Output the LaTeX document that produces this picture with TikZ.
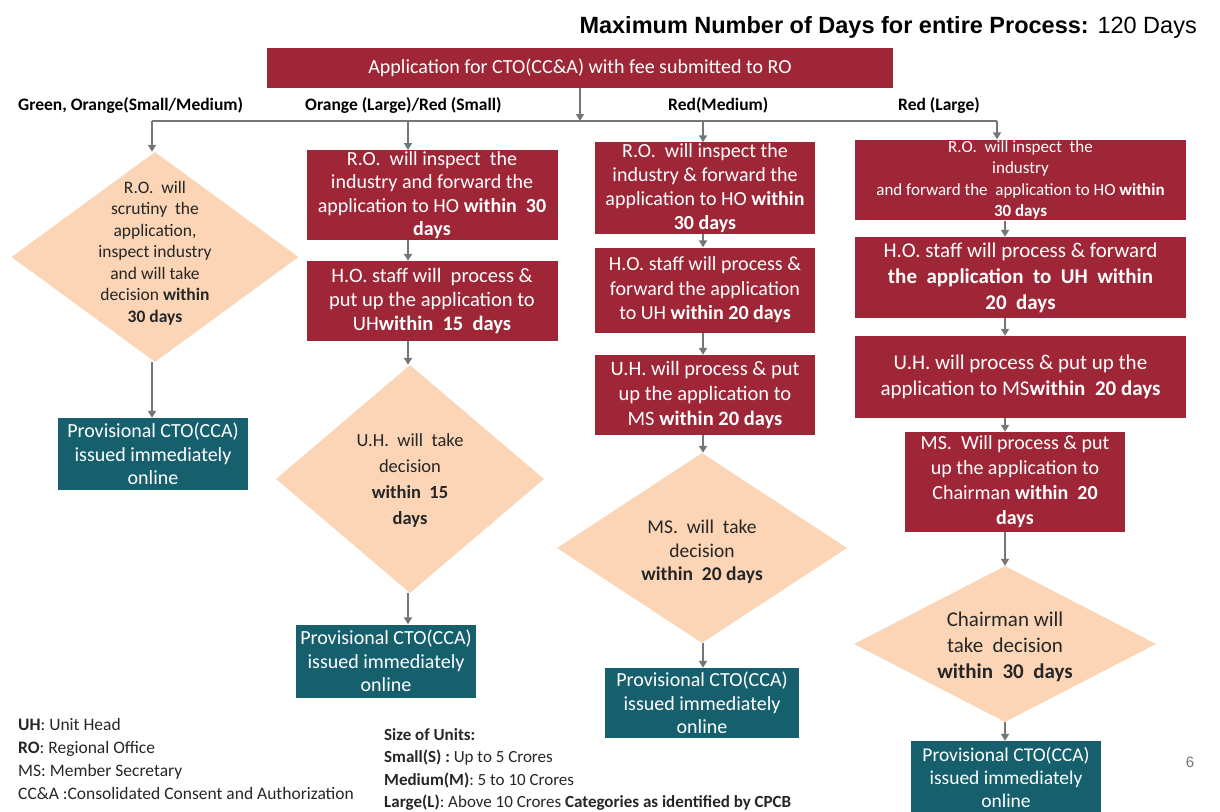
\documentclass[tikz,border=0pt]{standalone}
\usepackage{fontspec}
\setmainfont{Carlito}
\newfontfamily\arialf{Liberation Sans}
\usetikzlibrary{shapes.geometric,arrows.meta}
\definecolor{cred}{RGB}{158,38,55}
\definecolor{peach}{RGB}{251,213,181}
\definecolor{cteal}{RGB}{22,96,110}
\definecolor{agray}{RGB}{118,118,118}
\definecolor{dtext}{RGB}{38,38,38}
\newcommand\myfs[2]{\fontsize{#1}{#2}\selectfont}
\begin{document}
\begin{tikzpicture}[x=1pt,y=-1pt,
  redbox/.style={fill=cred,text=white,align=center,inner sep=1pt},
  tealbox/.style={fill=cteal,text=white,align=center,inner sep=1pt,font=\myfs{20}{23.5}},
  dia/.style={shape=diamond,fill=peach,inner sep=0pt},
  diatext/.style={text=dtext,align=center,inner sep=0pt},
  arr/.style={draw=agray,line width=1.8pt,-{Triangle[width=8pt,length=7pt]}},
  busline/.style={draw=agray,line width=1.8pt},
  lbl/.style={font=\bfseries\myfs{17.5}{20},text=black,anchor=west,inner sep=0pt},
  legend/.style={anchor=north west,align=left,inner sep=0pt,text=dtext}]
\useasboundingbox (0,0) rectangle (1220,811);

% title
\node[anchor=base east,font=\arialf\myfs{23.5}{27},text=black,inner sep=0pt] (title) at (1197,33)
  {\textbf{Maximum Number of Days for entire Process:} 120 Days};

% top box
\node[redbox,minimum width=626pt,minimum height=40pt,font=\myfs{20}{23}] (top) at (580,68)
  {Application for CTO(CC\&A) with fee submitted to RO};

% branch labels
\node[lbl] (l1) at (18,105) {Green, Orange(Small/Medium)};
\node[lbl] (l2) at (305,105) {Orange (Large)/Red (Small)};
\node[lbl] (l3) at (668,105) {Red(Medium)};
\node[lbl] (l4) at (898,105) {Red (Large)};

% bus coordinates
\coordinate (bj) at (580,121);
\coordinate (bx1) at (152,121);
\coordinate (bx2) at (408,121);
\coordinate (bx3) at (703,121);
\coordinate (bx4) at (997,121);
\coordinate (cx4) at (1005,0);

% ---------- column 1
\node[dia,minimum width=287pt,minimum height=210pt] (d1) at (155,257) {};
\node[diatext,font=\myfs{17.5}{21.5}] (d1t) at (155,253)
  {R.O.\ \ will\\scrutiny\ \ the\\application,\\inspect industry\\and will take\\decision \textbf{within}\\\textbf{30 days}};
\node[tealbox,minimum width=190pt,minimum height=72pt] (t1) at (153,454)
  {Provisional CTO(CCA)\\issued immediately\\online};

% ---------- column 2
\node[redbox,minimum width=251pt,minimum height=89pt,font=\myfs{20}{23.5}] (c2a) at (432,195)
  {R.O.\ \ will inspect\ \ the\\industry and forward the\\application to HO \textbf{within\ \ 30}\\\textbf{days}};
\node[redbox,minimum width=251pt,minimum height=80pt,font=\myfs{20.5}{24}] (c2b) at (432,301)
  {H.O. staff will\ \ process \&\\put up the application to\\UH\textbf{within\ \ 15\ \ days}};
\node[dia,minimum width=268pt,minimum height=228pt] (d2) at (410,479) {};
\node[diatext,font=\myfs{18.5}{26}] (d2t) at (410,481)
  {U.H.\ \ will\ \ take\\decision\\\textbf{within\ \ 15}\\\textbf{days}};
\node[tealbox,minimum width=180pt,minimum height=73pt] (t2) at (386,661)
  {Provisional CTO(CCA)\\issued immediately\\online};

% ---------- column 3
\node[redbox,minimum width=220pt,minimum height=89pt,font=\myfs{20}{24}] (c3a) at (705,188)
  {R.O.\ \ will inspect the\\industry \& forward the\\application to HO \textbf{within}\\\textbf{30 days}};
\node[redbox,minimum width=220pt,minimum height=85pt,font=\myfs{20}{24.5}] (c3b) at (705,290)
  {H.O. staff will process \&\\forward the application\\to UH \textbf{within 20 days}};
\node[redbox,minimum width=220pt,minimum height=80pt,font=\myfs{20.5}{25}] (c3c) at (705,395)
  {U.H. will process \& put\\up the application to\\MS \textbf{within 20 days}};
\node[dia,minimum width=290pt,minimum height=190pt] (d3) at (702,548) {};
\node[diatext,font=\myfs{19.5}{23.5}] (d3t) at (702,552)
  {MS.\ \ will\ \ take\\decision\\\textbf{within\ \ 20 days}};
\node[tealbox,minimum width=194pt,minimum height=70pt] (t3) at (702,703)
  {Provisional CTO(CCA)\\issued immediately\\online};

% ---------- column 4
\node[redbox,minimum width=331pt,minimum height=80pt,font=\myfs{17}{21.5}] (c4a) at (1020.5,180)
  {R.O.\ \ will inspect\ \ the\\industry\\and forward the\ \ application to HO \textbf{within}\\\textbf{30 days}};
\node[redbox,minimum width=331pt,minimum height=81pt,font=\myfs{21}{26}] (c4b) at (1020.5,277.5)
  {H.O. staff will process \& forward\\\textbf{the\ \ application\ \ to\ \ UH\ \ within}\\\textbf{20\ \ days}};
\node[redbox,minimum width=331pt,minimum height=82pt,font=\myfs{21}{26}] (c4c) at (1020.5,377)
  {U.H. will process \& put up the\\application to MS\textbf{within\ \ 20 days}};
\node[redbox,minimum width=220pt,minimum height=100pt,font=\myfs{20}{25}] (c4d) at (1015,482)
  {MS.\ \ Will process \& put\\up the application to\\Chairman \textbf{within\ \ 20}\\\textbf{days}};
\node[dia,minimum width=302pt,minimum height=156pt] (d4) at (1005,644) {};
\node[diatext,font=\myfs{21}{26}] (d4t) at (1005,647)
  {Chairman will\\take\ \ decision\\\textbf{within\ \ 30\ \ days}};
\node[tealbox,minimum width=190pt,minimum height=72pt,font=\myfs{19.5}{23}] (t4) at (1006,777)
  {Provisional CTO(CCA)\\issued immediately\\online};

% ---------- connectors
\draw[arr] (top.south) -- (bj);
\draw[busline] (bx1) -- (bx4);
\draw[arr] (bx1) -- (bx1 |- d1.north);
\draw[arr] (bx2) -- (bx2 |- c2a.north);
\draw[arr] (bx3) -- (bx3 |- c3a.north);
\draw[arr] (bx4) -- (bx4 |- c4a.north);

\draw[arr] (d1.south -| bx1) -- (t1.north -| bx1);

\draw[arr] (c2a.south -| bx2) -- (c2b.north -| bx2);
\draw[arr] (c2b.south -| bx2) -- (d2.north -| bx2);
\draw[arr] (d2.south -| bx2) -- (t2.north -| bx2);

\draw[arr] (c3a.south -| bx3) -- (c3b.north -| bx3);
\draw[arr] (c3b.south -| bx3) -- (c3c.north -| bx3);
\draw[arr] (c3c.south -| bx3) -- (d3.north -| bx3);
\draw[arr] (d3.south -| bx3) -- (t3.north -| bx3);

\draw[arr] (c4a.south -| cx4) -- (c4b.north -| cx4);
\draw[arr] (c4b.south -| cx4) -- (c4c.north -| cx4);
\draw[arr] (c4c.south -| cx4) -- (c4d.north -| cx4);
\draw[arr] (c4d.south -| cx4) -- (d4.north -| cx4);
\draw[arr] (d4.south -| cx4) -- (t4.north -| cx4);

% ---------- legends
\node[legend,font=\myfs{17.5}{23}] (leg1) at (18,718)
  {\textbf{UH}: Unit Head\\\textbf{RO}: Regional Office\\MS: Member Secretary\\CC\&A :Consolidated Consent and Authorization};
\node[legend,font=\myfs{17}{22.5}] (leg2) at (384,728)
  {\textbf{Size of Units:}\\\textbf{Small(S) :} Up to 5 Crores\\\textbf{Medium(M)}: 5 to 10 Crores\\\textbf{Large(L)}: Above 10 Crores \textbf{Categories as identified by CPCB}};
\node[font=\arialf\myfs{15}{18},text=agray,inner sep=0pt] (pg) at (1190,762) {6};
\end{tikzpicture}
\end{document}
